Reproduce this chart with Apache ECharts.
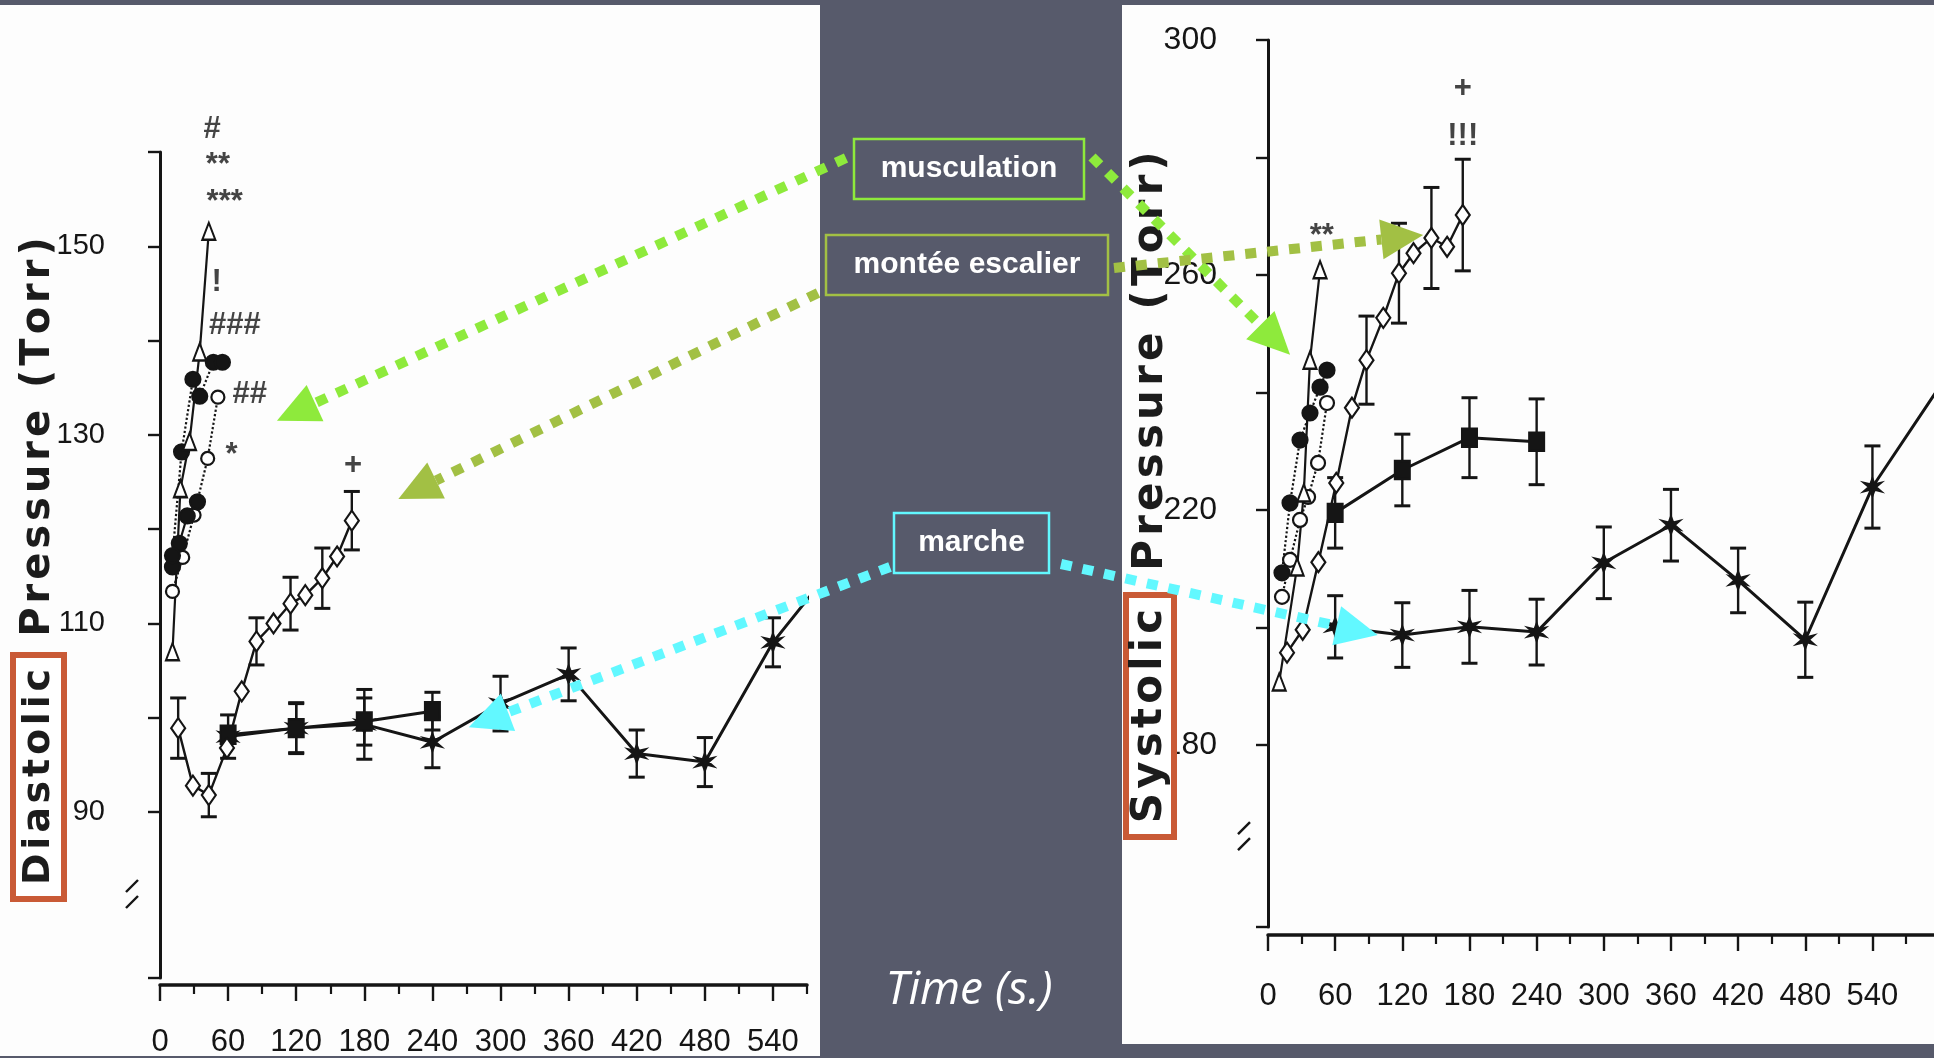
<!DOCTYPE html>
<html>
<head>
<meta charset="utf-8">
<script src="https://cdn.jsdelivr.net/npm/echarts@6/dist/echarts.min.js"></script>
<style>
  html, body { margin: 0; padding: 0; background: #575a6b; }
  #chart { width: 1934px; height: 1058px; }
</style>
</head>
<body>
<div id="chart"></div>
<script>
// ---- tick labels ----
const timeTicks = [0, 60, 120, 180, 240, 300, 360, 420, 480, 540];
const timeMinorTicks = [30, 90, 150, 210, 270, 330, 390, 450, 510, 570];
const diaTicks = [72.4, 90, 100, 110, 120, 130, 140, 150, 160];
const diaLabels = [90, 110, 130, 150];
const sysTicks = [149, 180, 200, 220, 240, 260, 280, 300];
const sysLabels = [180, 220, 260, 300];

// ---- diastolic (left) : [time s, Torr] ----
const diaWalk = [[60, 98], [120, 98.9], [180, 99.3], [240, 97.4], [300, 101.5], [360, 104.6], [420, 96.2], [480, 95.3], [540, 108], [600, 117]];
const diaWalkErr = [2.3, 2.6, 3.7, 2.7, 2.9, 2.8, 2.5, 2.6, 2.6, 0];
const diaSquare = [[60, 98.2], [120, 98.9], [180, 99.6], [240, 100.7]];
const diaSquareErr = [0, 2.7, 2.5, 2];
const diaStair = [[16, 98.9], [29, 92.8], [43, 91.8], [59, 96.8], [72, 102.8], [85, 108.1], [100, 110], [115, 112.1], [128, 113], [143, 114.8], [156, 117.1], [169, 120.9]];
const diaStairErr = [3.2, 0, 2.3, 0, 0, 2.5, 0, 2.8, 0, 3.2, 0, 3.1];
const diaLiftTri = [[11, 107], [18, 124.3], [26, 129.3], [35, 138.8], [43, 151.6]];
const diaLiftDotA = [[11, 117.2], [19, 128.2], [29, 135.9], [35, 134.1], [47, 137.7], [55, 137.7]];
const diaLiftDotB = [[11, 116], [17, 118.5], [24, 121.4], [33, 122.9]];
const diaLiftOpen = [[11, 113.4], [20, 117], [30, 121.5], [42, 127.5], [51, 134]];
const diaNotes = [[46, 162.4, '#'], [51, 158.6, '**'], [57, 154.7, '***'], [50, 146.2, '!'], [66, 141.6, '###'], [79, 134.3, '##'], [63, 127.8, '*'], [170, 126.8, '+']];

// ---- systolic (right) ----
const sysWalk = [[60, 200.1], [120, 198.7], [180, 200.1], [240, 199.2], [300, 211], [360, 217.4], [420, 208], [480, 197.9], [540, 223.9], [600, 241]];
const sysWalkErr = [5.3, 5.5, 6.2, 5.6, 6.1, 6.1, 5.5, 6.4, 7, 0];
const sysSquare = [[60, 219.5], [120, 226.8], [180, 232.3], [240, 231.6]];
const sysSquareErr = [6, 6.1, 6.8, 7.3];
const sysStair = [[17, 195.7], [31, 199.6], [45, 211.1], [61, 224.6], [75, 237.4], [88, 245.5], [103, 252.7], [117, 260.3], [130, 263.7], [146, 266.3], [160, 264.8], [174, 270.2]];
const sysStairErr = [0, 0, 0, 0, 0, 7.5, 0, 8.5, 0, 8.6, 0, 9.5];
const sysLiftTri = [[10, 190.7], [26, 210.3], [32, 222.9], [37.5, 245.5], [46.5, 260.9]];
const sysLiftDot = [[12.5, 209.3], [19.7, 221.2], [28.6, 231.9], [37.5, 236.5], [46.5, 240.9], [52.7, 243.8]];
const sysLiftOpen = [[12.5, 205.2], [19.7, 211.5], [28.6, 218.3], [35.8, 222.2], [44.7, 228], [52.7, 238.2]];
const sysNotes = [[48, 266.6, '**'], [174, 283.5, '!!!'], [174, 291.8, '+']];

// ---- annotation arrows: tips in data coordinates ----
const arrowTips = {
    muscL: [0, [103, 131.5]], escL: [0, [210, 123.2]], marL: [0, [272, 99]],
    muscR: [1, [19.7, 246.4]], escR: [1, [138.6, 266.8]], marR: [1, [98, 198.7]],
};

const INK = "#151515";
const SCAN = "'Liberation Sans Narrow', 'Liberation Sans', Arial, sans-serif";
const STAR = "path://M0,-10L2.4,-3.2L9.5,-5L4,0L9.5,5L2.4,3.2L0,10L-2.4,3.2L-9.5,5L-4,0L-9.5,-5L-2.4,-3.2Z";
const GREEN = "#8eea3c", OLIVE = "#a2c044", CYAN = "#62f8ff", ORANGE = "#c95a36";
const BG = "#575a6b";
const HAIR = "\u200A";

const chart = echarts.init(document.getElementById("chart"));

function line(g, data, symbol, size, filled, dotted, width) {
    return {
        type: "line", xAxisIndex: g * 2, yAxisIndex: g, data: data,
        symbol: symbol, symbolSize: size, z: 4,
        lineStyle: { color: INK, width: width || 2.2, type: dotted ? "dotted" : "solid" },
        itemStyle: { color: filled ? INK : "#fff", borderColor: INK, borderWidth: 2.2 },
    };
}

function errorBars(g, data, errs) {
    const rows = [];
    data.forEach((d, i) => { if (errs[i] > 0) rows.push([d[0], d[1] - errs[i], d[1] + errs[i]]); });
    return {
        type: "custom", xAxisIndex: g * 2, yAxisIndex: g, data: rows, z: 3, silent: true,
        encode: { x: 0, y: [1, 2] },
        renderItem: function (params, api) {
            const lo = api.coord([api.value(0), api.value(1)]);
            const hi = api.coord([api.value(0), api.value(2)]);
            const w = 8;
            return {
                type: "group", children: [
                    { type: "line", shape: { x1: lo[0], y1: lo[1], x2: hi[0], y2: hi[1] }, style: { stroke: INK, lineWidth: 2.4 } },
                    { type: "line", shape: { x1: lo[0] - w, y1: lo[1], x2: lo[0] + w, y2: lo[1] }, style: { stroke: INK, lineWidth: 3 } },
                    { type: "line", shape: { x1: hi[0] - w, y1: hi[1], x2: hi[0] + w, y2: hi[1] }, style: { stroke: INK, lineWidth: 3 } },
                ],
            };
        },
    };
}

function notes(g, data) {
    return {
        type: "scatter", xAxisIndex: g * 2, yAxisIndex: g, data: data, clip: false,
        symbolSize: 1, itemStyle: { color: "rgba(0,0,0,0)" }, z: 5,
        label: {
            show: true, position: "inside", formatter: (p) => p.data[2],
            color: INK, fontSize: 31, fontWeight: "bold", fontFamily: SCAN,
        },
    };
}

function xAxes(g, max, offset, margin) {
    return [
        {
            type: "value", gridIndex: g, min: 0, max: max, offset: offset,
            axisLine: { lineStyle: { color: INK, width: 3.5 } },
            axisTick: { customValues: timeTicks, length: 16, lineStyle: { color: INK, width: 2.4 } },
            axisLabel: { customValues: timeTicks, margin: margin, color: INK, fontSize: 31, fontFamily: SCAN },
            splitLine: { show: false },
        },
        {
            type: "value", gridIndex: g, min: 0, max: max, offset: offset, position: "bottom",
            axisLine: { show: false },
            axisTick: { customValues: timeMinorTicks, length: 9, lineStyle: { color: INK, width: 2.2 } },
            axisLabel: { show: false },
            splitLine: { show: false },
        },
    ];
}

function yAxis(g, min, max, ticks, labels, offset, fontSize) {
    return {
        type: "value", gridIndex: g, min: min, max: max, offset: offset,
        axisLine: { show: true, lineStyle: { color: INK, width: 3 } },
        axisTick: { show: true, customValues: ticks, length: 12, lineStyle: { color: INK, width: 2.4 } },
        axisLabel: { customValues: labels, margin: 27, color: INK, fontSize: fontSize, fontFamily: SCAN },
        splitLine: { show: false },
    };
}

const option = {
    backgroundColor: BG,
    animation: false,
    grid: [
        { left: 160, top: 152, width: 647, height: 828 },
        { left: 1268, top: 40, width: 666, height: 887 },
    ],
    xAxis: [...xAxes(0, 570, 7, 42), ...xAxes(1, 595, 8, 46)],
    yAxis: [
        yAxis(0, 72.4, 160, diaTicks, diaLabels, 28, 29),
        yAxis(1, 149, 300, sysTicks, sysLabels, 24, 32),
    ],
    series: [
        errorBars(0, diaWalk, diaWalkErr),
        errorBars(0, diaSquare, diaSquareErr),
        errorBars(0, diaStair, diaStairErr),
        line(0, diaWalk, STAR, 17, true, false, 3),
        line(0, diaSquare, "rect", [15, 18], true, false, 3),
        line(0, diaStair, "diamond", [14, 20], false, false, 2.4),
        line(0, diaLiftOpen, "circle", 13, false, true),
        line(0, diaLiftDotB, "circle", 15, true, false),
        line(0, diaLiftDotA, "circle", 15, true, true),
        line(0, diaLiftTri, "triangle", [13, 17], false, false),
        notes(0, diaNotes),

        errorBars(1, sysWalk, sysWalkErr),
        errorBars(1, sysSquare, sysSquareErr),
        errorBars(1, sysStair, sysStairErr),
        line(1, sysWalk, STAR, 17, true, false, 3),
        line(1, sysSquare, "rect", [15, 18], true, false, 3),
        line(1, sysStair, "diamond", [14, 20], false, false, 2.4),
        line(1, sysLiftOpen, "circle", 14, false, true),
        line(1, sysLiftDot, "circle", 15, true, true),
        line(1, sysLiftTri, "triangle", [13, 17], false, false),
        notes(1, sysNotes),
    ],
};

chart.setOption(option);

// ---- slide decorations ----
function vText(text, x, y, size) {
    return {
        type: "text", x: x, y: y, rotation: Math.PI / 2, z: 12,
        style: {
            text: text.split("").join(HAIR), fill: "#1c1c1c",
            font: "bold " + size + "px 'DejaVu Sans', sans-serif", textAlign: "center", textVerticalAlign: "middle",
        },
    };
}

function labelBox(text, x, y, w, h, color) {
    return [
        { type: "rect", shape: { x: x, y: y, width: w, height: h }, z: 20, style: { fill: BG, stroke: color, lineWidth: 2.5 } },
        {
            type: "text", x: x + w / 2, y: y + h / 2, z: 21,
            style: { text: text, fill: "#fff", font: "bold 30px 'Liberation Sans', Arial, sans-serif", textAlign: "center", textVerticalAlign: "middle" },
        },
    ];
}

function arrow(from, tip, color) {
    const dx = tip[0] - from[0], dy = tip[1] - from[1];
    const len = Math.hypot(dx, dy);
    const ux = dx / len, uy = dy / len, L = 42, W = 20;
    const bx = tip[0] - ux * L, by = tip[1] - uy * L;
    return [
        { type: "line", z: 30, shape: { x1: from[0], y1: from[1], x2: bx, y2: by }, style: { stroke: color, lineWidth: 10, lineDash: [11, 11] } },
        { type: "polygon", z: 30, shape: { points: [tip, [bx - uy * W, by + ux * W], [bx + uy * W, by - ux * W]] }, style: { fill: color } },
    ];
}

function axisBreak(g, value, offset) {
    const p = chart.convertToPixel({ xAxisIndex: g * 2, yAxisIndex: g }, [0, value]);
    const ax = p[0] - offset, y = p[1];
    const st = { stroke: INK, lineWidth: 2.4 };
    return [
        { type: "rect", z: 8, shape: { x: ax - 5, y: y - 9, width: 10, height: 16 }, style: { fill: "#fdfdfd" } },
        { type: "line", z: 9, shape: { x1: ax - 6, y1: y - 3, x2: ax + 6, y2: y - 15 }, style: st },
        { type: "line", z: 9, shape: { x1: ax - 6, y1: y + 13, x2: ax + 6, y2: y + 1 }, style: st },
    ];
}

const tip = (k) => chart.convertToPixel({ xAxisIndex: arrowTips[k][0] * 2, yAxisIndex: arrowTips[k][0] }, arrowTips[k][1]);

const graphics = [
    { type: "rect", z: -10, shape: { x: 0, y: 5, width: 820, height: 1051 }, style: { fill: "#fdfdfd" } },
    { type: "rect", z: -10, shape: { x: 1122, y: 5, width: 812, height: 1039 }, style: { fill: "#fdfdfd" } },

    vText("Pressure (Torr)", 39, 437, 40),
    { type: "rect", z: 11, shape: { x: 13, y: 655, width: 51, height: 244 }, style: { fill: "#fff", stroke: ORANGE, lineWidth: 6 } },
    vText("Diastolic", 39, 777, 38),

    vText("Pressure (Torr)", 1151, 361, 42),
    { type: "rect", z: 11, shape: { x: 1126, y: 595, width: 48, height: 242 }, style: { fill: "#fff", stroke: ORANGE, lineWidth: 6 } },
    vText("Systolic", 1150, 716, 42),

    {
        type: "text", x: 969, y: 991, z: 12,
        style: { text: "Time (s.)", fill: "#ffffff", font: "italic 46px 'Open Sans', 'Noto Sans', sans-serif", textAlign: "center", textVerticalAlign: "middle" },
    },

    ...axisBreak(0, 81.2, 28),
    ...axisBreak(1, 164.3, 24),

    ...labelBox("musculation", 854, 139, 230, 60, GREEN),
    ...labelBox("montée escalier", 826, 235, 282, 60, OLIVE),
    ...labelBox("marche", 894, 513, 155, 60, CYAN),

    ...arrow([846, 158], tip("muscL"), GREEN),
    ...arrow([1092, 157], tip("muscR"), GREEN),
    ...arrow([818, 293], tip("escL"), OLIVE),
    ...arrow([1114, 268], tip("escR"), OLIVE),
    ...arrow([890, 567], tip("marL"), CYAN),
    ...arrow([1061, 564], tip("marR"), CYAN),
];

chart.setOption({ graphic: { elements: graphics } });
</script>
</body>
</html>
